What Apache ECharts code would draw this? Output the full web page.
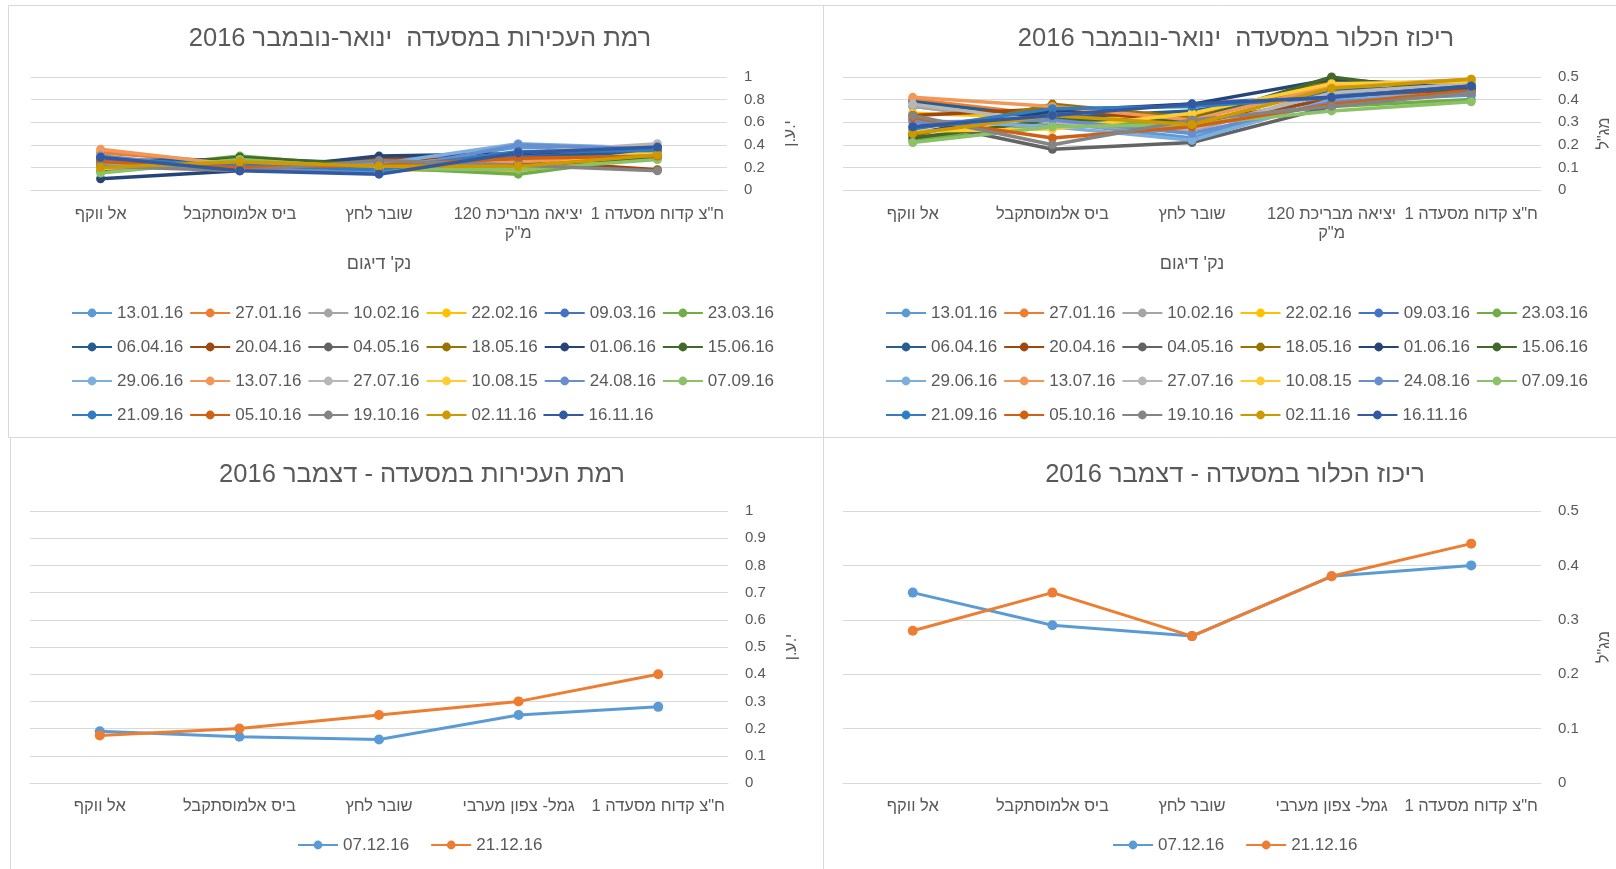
<!DOCTYPE html>
<html>
<head>
<meta charset="utf-8">
<script src="https://cdn.jsdelivr.net/npm/echarts@6/dist/echarts.min.js"></script>
<style>
  html, body { margin: 0; padding: 0; background: #fff; }
  #main { width: 1616px; height: 869px; direction: rtl; }
</style>
</head>
<body>
<div id="main"></div>
<script>
// קטגוריות (נקודות דיגום)
const catsTop = ['אל ווקף', 'ביס אלמוסתקבל', 'שובר לחץ', 'יציאה מבריכת 120\nמ"ק', 'ח"צ קדוח מסעדה 1']
const catsDec = ['אל ווקף', 'ביס אלמוסתקבל', 'שובר לחץ', 'גמל- צפון מערבי', 'ח"צ קדוח מסעדה 1']

// תאריכי דיגום ינואר-נובמבר
const dates = ['13.01.16', '27.01.16', '10.02.16', '22.02.16', '09.03.16', '23.03.16',
  '06.04.16', '20.04.16', '04.05.16', '18.05.16', '01.06.16', '15.06.16',
  '29.06.16', '13.07.16', '27.07.16', '10.08.15', '24.08.16', '07.09.16',
  '21.09.16', '05.10.16', '19.10.16', '02.11.16', '16.11.16']

const colors = ['#5B9BD5', '#ED7D31', '#A5A5A5', '#FFC000', '#4472C4', '#70AD47',
  '#255E91', '#9E480E', '#636363', '#997300', '#264478', '#43682B',
  '#7CAFDD', '#F1975A', '#B7B7B7', '#FFCD33', '#698ED0', '#8CC168',
  '#327DC2', '#D26012', '#848484', '#CC9A00', '#335AA1']

// עכירות ינואר-נובמבר (לפי סדר התאריכים)
const turbidity = [
  [0.22, 0.25, 0.20, 0.38, 0.36],
  [0.33, 0.24, 0.21, 0.27, 0.33],
  [0.25, 0.23, 0.22, 0.30, 0.38],
  [0.20, 0.22, 0.18, 0.17, 0.32],
  [0.28, 0.18, 0.15, 0.30, 0.37],
  [0.17, 0.30, 0.20, 0.14, 0.30],
  [0.26, 0.27, 0.24, 0.28, 0.35],
  [0.22, 0.20, 0.28, 0.26, 0.18],
  [0.19, 0.24, 0.25, 0.23, 0.30],
  [0.21, 0.23, 0.20, 0.22, 0.32],
  [0.10, 0.17, 0.30, 0.32, 0.38],
  [0.18, 0.29, 0.22, 0.24, 0.28],
  [0.24, 0.21, 0.23, 0.41, 0.37],
  [0.36, 0.22, 0.20, 0.25, 0.31],
  [0.20, 0.19, 0.21, 0.33, 0.41],
  [0.19, 0.26, 0.20, 0.20, 0.34],
  [0.30, 0.18, 0.16, 0.40, 0.36],
  [0.15, 0.27, 0.19, 0.18, 0.27],
  [0.27, 0.22, 0.18, 0.34, 0.35],
  [0.25, 0.20, 0.22, 0.28, 0.30],
  [0.21, 0.17, 0.26, 0.22, 0.17],
  [0.20, 0.25, 0.21, 0.21, 0.31],
  [0.29, 0.17, 0.14, 0.33, 0.38]
]

// כלור ינואר-נובמבר
const chlorine = [
  [0.37, 0.30, 0.23, 0.42, 0.45],
  [0.40, 0.33, 0.28, 0.38, 0.47],
  [0.37, 0.29, 0.26, 0.44, 0.48],
  [0.34, 0.32, 0.33, 0.47, 0.46],
  [0.28, 0.34, 0.38, 0.42, 0.44],
  [0.22, 0.29, 0.30, 0.37, 0.40],
  [0.39, 0.32, 0.35, 0.44, 0.46],
  [0.33, 0.36, 0.30, 0.40, 0.45],
  [0.31, 0.18, 0.21, 0.37, 0.44],
  [0.24, 0.38, 0.32, 0.48, 0.47],
  [0.25, 0.35, 0.38, 0.49, 0.45],
  [0.23, 0.31, 0.31, 0.50, 0.42],
  [0.31, 0.28, 0.22, 0.40, 0.43],
  [0.41, 0.37, 0.31, 0.46, 0.49],
  [0.38, 0.30, 0.27, 0.43, 0.47],
  [0.26, 0.27, 0.34, 0.47, 0.48],
  [0.30, 0.31, 0.25, 0.39, 0.42],
  [0.21, 0.28, 0.29, 0.35, 0.39],
  [0.27, 0.36, 0.37, 0.41, 0.46],
  [0.32, 0.23, 0.28, 0.38, 0.44],
  [0.33, 0.20, 0.31, 0.37, 0.43],
  [0.25, 0.33, 0.29, 0.45, 0.49],
  [0.28, 0.33, 0.38, 0.41, 0.46]
]

// דצמבר
const decDates = ['07.12.16', '21.12.16']
const decColors = ['#5B9BD5', '#ED7D31']
const decTurbidity = [
  [0.19, 0.17, 0.16, 0.25, 0.28],
  [0.175, 0.20, 0.25, 0.30, 0.40]
]
const decChlorine = [
  [0.35, 0.29, 0.27, 0.38, 0.40],
  [0.28, 0.35, 0.27, 0.38, 0.44]
]

const FONT = 'Liberation Sans, DejaVu Sans, sans-serif'
const TXT = '#595959'
const GRID_LINE = '#D9D9D9'

function xAxis (gridIndex, data, margin, withName) {
  let ax = {
    type: 'category',
    gridIndex: gridIndex,
    data: data,
    axisLine: { show: true, lineStyle: { color: GRID_LINE, width: 1 } },
    axisTick: { show: false },
    splitLine: { show: false },
    axisLabel: { interval: 0, margin: margin, color: TXT, fontSize: 16.5, fontFamily: FONT, lineHeight: 19 }
  }
  if (withName) {
    ax.name = 'נק\' דיגום'
    ax.nameLocation = 'middle'
    ax.nameGap = 65
    ax.nameTextStyle = { color: TXT, fontSize: 18, fontFamily: FONT }
  }
  return ax
}

function yAxis (gridIndex, max, interval, name, nameGap) {
  return {
    type: 'value',
    gridIndex: gridIndex,
    position: 'right',
    min: 0,
    max: max,
    interval: interval,
    name: name,
    nameLocation: 'middle',
    nameRotate: 90,
    nameGap: nameGap,
    nameTextStyle: { color: TXT, fontSize: 16, fontFamily: FONT },
    axisLine: { show: false },
    axisTick: { show: false },
    splitLine: { show: true, lineStyle: { color: GRID_LINE, width: 1 } },
    axisLabel: { margin: 17, color: TXT, fontSize: 15, fontFamily: FONT, align: 'left' }
  }
}

function lineSeries (name, color, data, idx, width, size) {
  return {
    name: name,
    type: 'line',
    xAxisIndex: idx,
    yAxisIndex: idx,
    data: data,
    symbol: 'circle',
    symbolSize: size,
    showSymbol: true,
    color: color,
    lineStyle: { width: width, color: color },
    itemStyle: { color: color },
    emphasis: { disabled: true },
    animation: false
  }
}

function legend (left, top, names, width, gap) {
  return {
    left: left,
    top: top,
    width: width,
    data: names,
    orient: 'horizontal',
    itemWidth: 40,
    itemHeight: 11,
    itemGap: gap,
    padding: 0,
    textStyle: { color: TXT, fontSize: 17, fontFamily: FONT, lineHeight: 28 },
    selectedMode: false
  }
}

const titleStyle = { color: TXT, fontSize: 25.5, fontWeight: 'normal', fontFamily: FONT }

let series = []
dates.forEach((d, i) => { series.push(lineSeries(d, colors[i], turbidity[i], 0, 3.5, 9)) })
dates.forEach((d, i) => { series.push(lineSeries(d, colors[i], chlorine[i], 1, 3.5, 9)) })
decDates.forEach((d, i) => { series.push(lineSeries(d, decColors[i], decTurbidity[i], 2, 3, 10)) })
decDates.forEach((d, i) => { series.push(lineSeries(d, decColors[i], decChlorine[i], 3, 3, 10)) })

let myChart = echarts.init(document.getElementById('main'), null, { renderer: 'canvas' })
let option = {
  backgroundColor: '#fff',
  animation: false,
  textStyle: { fontFamily: FONT },
  title: [
    { text: 'רמת העכירות במסעדה  ינואר-נובמבר 2016', left: 415, top: 21, textAlign: 'center', textStyle: titleStyle },
    { text: 'ריכוז הכלור במסעדה  ינואר-נובמבר 2016', left: 1231, top: 21, textAlign: 'center', textStyle: titleStyle },
    { text: 'רמת העכירות במסעדה - דצמבר 2016', left: 417, top: 457, textAlign: 'center', textStyle: titleStyle },
    { text: 'ריכוז הכלור במסעדה - דצמבר 2016', left: 1230, top: 457, textAlign: 'center', textStyle: titleStyle }
  ],
  grid: [
    { left: 31, top: 77, width: 696, height: 113 },
    { left: 843, top: 77, width: 698, height: 113 },
    { left: 30, top: 511, width: 698, height: 272 },
    { left: 843, top: 511, width: 698, height: 272 }
  ],
  xAxis: [
    xAxis(0, catsTop, 15, true),
    xAxis(1, catsTop, 15, true),
    xAxis(2, catsDec, 14, false),
    xAxis(3, catsDec, 14, false)
  ],
  yAxis: [
    yAxis(0, 1, 0.2, 'י.ע.ן', 56),
    yAxis(1, 0.5, 0.1, 'מג"ל', 56),
    yAxis(2, 1, 0.1, 'י.ע.ן', 56),
    yAxis(3, 0.5, 0.1, 'מג"ל', 56)
  ],
  legend: [
    legend(71, 299, dates, 712, 6),
    legend(885, 299, dates, 712, 6),
    legend(297, 831, decDates, 400, 21),
    legend(1112, 831, decDates, 400, 21)
  ],
  graphic: [
    { type: 'rect', shape: { x: 8.5, y: 5.5, width: 815, height: 432 }, style: { fill: 'none', stroke: GRID_LINE, lineWidth: 1 }, silent: true },
    { type: 'rect', shape: { x: 823.5, y: 5.5, width: 830, height: 432 }, style: { fill: 'none', stroke: GRID_LINE, lineWidth: 1 }, silent: true },
    { type: 'rect', shape: { x: 10.5, y: 437.5, width: 813, height: 450 }, style: { fill: 'none', stroke: GRID_LINE, lineWidth: 1 }, silent: true },
    { type: 'rect', shape: { x: 823.5, y: 437.5, width: 830, height: 450 }, style: { fill: 'none', stroke: GRID_LINE, lineWidth: 1 }, silent: true }
  ],
  series: series
}
myChart.setOption(option)
</script>
</body>
</html>
